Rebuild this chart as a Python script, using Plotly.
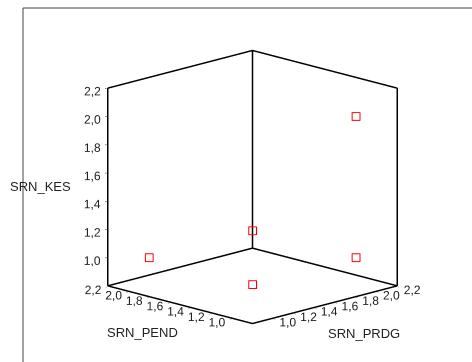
import plotly.graph_objects as go

# data
srn_pend = [2.0, 1.0, 1.0, 2.0, 1.0]
srn_prdg = [1.0, 2.0, 1.0, 2.0, 2.0]
srn_kes = [1.0, 1.0, 1.0, 1.0, 2.0]
tick_vals = [1.0, 1.2, 1.4, 1.6, 1.8, 2.0, 2.2]
tick_text = ["1,0", "1,2", "1,4", "1,6", "1,8", "2,0", "2,2"]
axis_range = [0.8, 2.2]

lo, hi = axis_range
pad = 0.006
scene_range = [lo - pad, hi + pad]
# box frame edges (back walls + floor) derived from the axis range
edges = [
    ((lo, lo, lo), (hi, lo, lo)),
    ((lo, lo, lo), (lo, hi, lo)),
    ((hi, lo, lo), (hi, hi, lo)),
    ((lo, hi, lo), (hi, hi, lo)),
    ((lo, hi, lo), (lo, hi, hi)),
    ((hi, hi, lo), (hi, hi, hi)),
    ((hi, lo, lo), (hi, lo, hi)),
    ((lo, hi, hi), (hi, hi, hi)),
    ((hi, lo, hi), (hi, hi, hi)),
]
ex, ey, ez = [], [], []
for a, b in edges:
    ex += [a[0], b[0], None]
    ey += [a[1], b[1], None]
    ez += [a[2], b[2], None]

fig = go.Figure()
fig.add_trace(go.Scatter3d(x=ex, y=ey, z=ez, mode="lines",
                           line=dict(color="black", width=3),
                           hoverinfo="skip", showlegend=False))
fig.add_trace(go.Scatter3d(x=srn_prdg, y=srn_pend, z=srn_kes, mode="markers",
                           marker=dict(symbol="square-open", size=3.5, color="red",
                                       line=dict(color="red", width=2)),
                           hoverinfo="skip", showlegend=False))

ax = dict(range=scene_range, tickvals=tick_vals, ticktext=tick_text,
          showgrid=False, showbackground=False, zeroline=False, showline=False,
          showspikes=False, ticks="outside", ticklen=2, tickcolor="black",
          tickangle=0,
          tickfont=dict(family="Arial, Liberation Sans", size=12, color="#222"),
          title=dict(text=""))

font = dict(family="Arial, Liberation Sans", size=13, color="#222")

fig.update_layout(
    width=472, height=362,
    margin=dict(l=0, r=0, t=0, b=0),
    paper_bgcolor="white",
    scene=dict(
        xaxis=ax, yaxis=ax, zaxis=ax,
        aspectmode="manual",
        aspectratio=dict(x=1.18, y=1.18, z=1.18),
        domain=dict(x=[0.07, 1.0], y=[0.0, 0.966]),
        camera=dict(projection=dict(type="orthographic"),
                    eye=dict(x=-1.45, y=-1.45, z=0.553),
                    center=dict(x=0, y=0, z=0),
                    up=dict(x=0, y=0, z=1)),
    ),
    shapes=[
        dict(type="line", xref="paper", yref="paper", x0=23/472, x1=23/472,
             y0=0, y1=1-8/362, line=dict(color="#444", width=1)),
        dict(type="line", xref="paper", yref="paper", x0=23/472, x1=1,
             y0=1-8/362, y1=1-8/362, line=dict(color="#444", width=1)),
    ],
    annotations=[
        dict(text="SRN_KES", xref="paper", yref="paper", x=40/472, y=1-187/362,
             xanchor="center", yanchor="middle", showarrow=False, font=font),
        dict(text="SRN_PEND", xref="paper", yref="paper", x=142/472, y=1-332/362,
             xanchor="center", yanchor="middle", showarrow=False, font=font),
        dict(text="SRN_PRDG", xref="paper", yref="paper", x=364/472, y=1-333/362,
             xanchor="center", yanchor="middle", showarrow=False, font=font),
    ],
)

fig.write_html("out.html", config={"displayModeBar": False},
               post_script="document.body.style.margin='0';")
